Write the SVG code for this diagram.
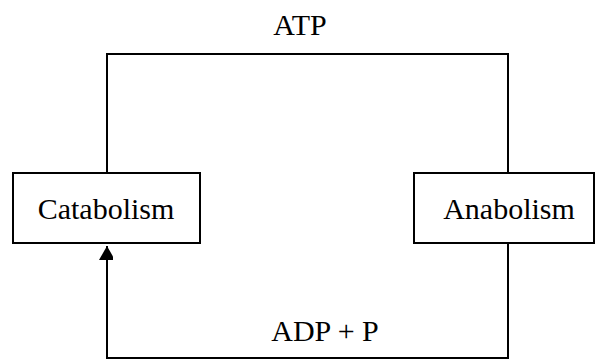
<svg xmlns="http://www.w3.org/2000/svg" width="595" height="359" viewBox="0 0 595 359">
<style>
.box{fill:#fff;stroke:#000;stroke-width:2}
.conn{fill:none;stroke:#000;stroke-width:2}
.lbl{font-family:"Liberation Serif","Times New Roman",serif;font-size:30px;fill:#000;text-anchor:middle}
</style>
<defs>
<marker id="arr" markerUnits="userSpaceOnUse" markerWidth="18" markerHeight="14" refX="14" refY="8" orient="auto">
<path d="M0,0 L14,8 L0,16 Z" fill="#000"/>
</marker>
</defs>
<rect width="595" height="359" fill="#fff"/>
<g id="connectors">
<polyline class="conn" points="107,173 107,54 508,54 508,173"/>
<polyline class="conn" points="508,243 508,358 107,358 107,246" marker-end="url(#arr)"/>
</g>
<g id="catabolism">
<rect class="box" x="13" y="173" width="187" height="70"/>
<text class="lbl" x="106" y="219">Catabolism</text>
</g>
<g id="anabolism">
<rect class="box" x="414" y="173" width="180" height="70"/>
<text class="lbl" x="509" y="219">Anabolism</text>
</g>
<g id="labels">
<text class="lbl" x="300" y="35">ATP</text>
<text class="lbl" x="325" y="341">ADP + P</text>
</g>
</svg>
